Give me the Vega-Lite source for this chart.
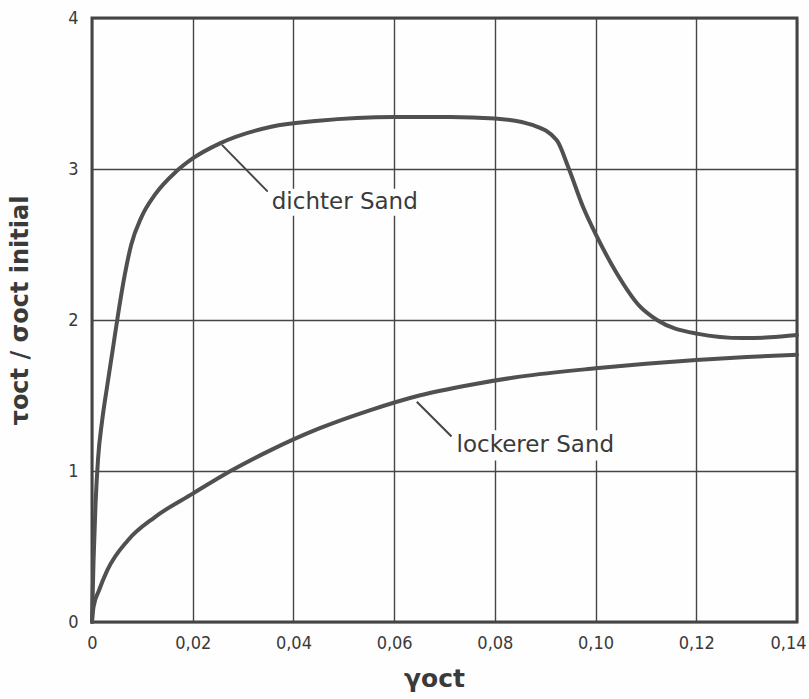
{
  "$schema": "https://vega.github.io/schema/vega-lite/v6.json",
  "width": 705,
  "height": 604,
  "autosize": "none",
  "padding": {"left": 92, "top": 18, "right": 12, "bottom": 77},
  "background": "#fefefe",
  "config": {
    "view": {"stroke": "#454545", "strokeWidth": 3},
    "font": "DejaVu Sans Condensed"
  },
  "datasets": {
    "curves": [
      {"gamma": 0, "ratio": 0, "sand": "dichter Sand"},
      {"gamma": 0.0003, "ratio": 0.4, "sand": "dichter Sand"},
      {"gamma": 0.0007, "ratio": 0.78, "sand": "dichter Sand"},
      {"gamma": 0.0012, "ratio": 1.08, "sand": "dichter Sand"},
      {"gamma": 0.002, "ratio": 1.33, "sand": "dichter Sand"},
      {"gamma": 0.003, "ratio": 1.56, "sand": "dichter Sand"},
      {"gamma": 0.0041, "ratio": 1.8, "sand": "dichter Sand"},
      {"gamma": 0.0051, "ratio": 2.02, "sand": "dichter Sand"},
      {"gamma": 0.0064, "ratio": 2.28, "sand": "dichter Sand"},
      {"gamma": 0.0078, "ratio": 2.5, "sand": "dichter Sand"},
      {"gamma": 0.0098, "ratio": 2.68, "sand": "dichter Sand"},
      {"gamma": 0.0125, "ratio": 2.83, "sand": "dichter Sand"},
      {"gamma": 0.0166, "ratio": 2.98, "sand": "dichter Sand"},
      {"gamma": 0.02, "ratio": 3.07, "sand": "dichter Sand"},
      {"gamma": 0.0254, "ratio": 3.17, "sand": "dichter Sand"},
      {"gamma": 0.0356, "ratio": 3.28, "sand": "dichter Sand"},
      {"gamma": 0.045, "ratio": 3.32, "sand": "dichter Sand"},
      {"gamma": 0.06, "ratio": 3.345, "sand": "dichter Sand"},
      {"gamma": 0.0711, "ratio": 3.345, "sand": "dichter Sand"},
      {"gamma": 0.08, "ratio": 3.335, "sand": "dichter Sand"},
      {"gamma": 0.0876, "ratio": 3.29, "sand": "dichter Sand"},
      {"gamma": 0.0923, "ratio": 3.19, "sand": "dichter Sand"},
      {"gamma": 0.0946, "ratio": 3.01, "sand": "dichter Sand"},
      {"gamma": 0.0975, "ratio": 2.75, "sand": "dichter Sand"},
      {"gamma": 0.1003, "ratio": 2.55, "sand": "dichter Sand"},
      {"gamma": 0.1042, "ratio": 2.31, "sand": "dichter Sand"},
      {"gamma": 0.1088, "ratio": 2.09, "sand": "dichter Sand"},
      {"gamma": 0.1122, "ratio": 2.0, "sand": "dichter Sand"},
      {"gamma": 0.1201, "ratio": 1.91, "sand": "dichter Sand"},
      {"gamma": 0.1293, "ratio": 1.88, "sand": "dichter Sand"},
      {"gamma": 0.1346, "ratio": 1.885, "sand": "dichter Sand"},
      {"gamma": 0.14, "ratio": 1.9, "sand": "dichter Sand"},
      {"gamma": 0, "ratio": 0, "sand": "lockerer Sand"},
      {"gamma": 0.0003, "ratio": 0.1, "sand": "lockerer Sand"},
      {"gamma": 0.0014, "ratio": 0.21, "sand": "lockerer Sand"},
      {"gamma": 0.003, "ratio": 0.34, "sand": "lockerer Sand"},
      {"gamma": 0.0071, "ratio": 0.54, "sand": "lockerer Sand"},
      {"gamma": 0.0125, "ratio": 0.695, "sand": "lockerer Sand"},
      {"gamma": 0.02, "ratio": 0.85, "sand": "lockerer Sand"},
      {"gamma": 0.0275, "ratio": 1.0, "sand": "lockerer Sand"},
      {"gamma": 0.0356, "ratio": 1.14, "sand": "lockerer Sand"},
      {"gamma": 0.045, "ratio": 1.28, "sand": "lockerer Sand"},
      {"gamma": 0.055, "ratio": 1.4, "sand": "lockerer Sand"},
      {"gamma": 0.065, "ratio": 1.5, "sand": "lockerer Sand"},
      {"gamma": 0.075, "ratio": 1.57, "sand": "lockerer Sand"},
      {"gamma": 0.085, "ratio": 1.625, "sand": "lockerer Sand"},
      {"gamma": 0.1, "ratio": 1.68, "sand": "lockerer Sand"},
      {"gamma": 0.11, "ratio": 1.71, "sand": "lockerer Sand"},
      {"gamma": 0.12, "ratio": 1.735, "sand": "lockerer Sand"},
      {"gamma": 0.13, "ratio": 1.755, "sand": "lockerer Sand"},
      {"gamma": 0.14, "ratio": 1.77, "sand": "lockerer Sand"}
    ],
    "labels": [
      {"label": "dichter Sand", "tx": 0.0357, "ty": 2.78, "bx1": 0.035, "bx2": 0.0663, "by1": 2.69, "by2": 2.87, "lx1": 0.0258, "ly1": 3.16, "lx2": 0.0349, "ly2": 2.85},
      {"label": "lockerer Sand", "tx": 0.0724, "ty": 1.17, "bx1": 0.0715, "bx2": 0.1068, "by1": 1.07, "by2": 1.27, "lx1": 0.0645, "ly1": 1.459, "lx2": 0.0714, "ly2": 1.228}
    ]
  },
  "layer": [
    {
      "data": {"name": "curves"},
      "mark": {"type": "line", "interpolate": "monotone", "strokeWidth": 4, "color": "#505050", "strokeCap": "round"},
      "encoding": {
        "x": {
          "field": "gamma", "type": "quantitative",
          "scale": {"domain": [0, 0.14], "nice": false},
          "axis": {
            "values": [0, 0.02, 0.04, 0.06, 0.08, 0.1, 0.12, 0.14],
            "labelExpr": "datum.value == 0 ? '0' : replace(format(datum.value, '.2f'), '.', ',')",
            "labelAlign": {"condition": {"test": "datum.value > 0.13", "value": "right"}, "value": "center"},
            "labelOffset": {"condition": {"test": "datum.value > 0.13", "value": 9}, "value": 0},
            "title": "γoct",
            "titleFontSize": 25,
            "titleFontWeight": 600,
            "titleFont": "DejaVu Sans",
            "titleColor": "#3a3a3a",
            "titleX": 342,
            "titleY": 56,
            "titleBaseline": "middle",
            "labelFontSize": 18,
            "labelColor": "#3a3a3a",
            "labelPadding": 12,
            "labelFlush": false,
            "labelOverlap": false,
            "ticks": false,
            "domain": false,
            "grid": true,
            "gridColor": "#454545",
            "gridWidth": 1.4,
            "gridOpacity": 1
          }
        },
        "y": {
          "field": "ratio", "type": "quantitative",
          "scale": {"domain": [0, 4], "nice": false},
          "axis": {
            "values": [0, 1, 2, 3, 4],
            "format": "d",
            "title": "τoct / σoct initial",
            "titleFontSize": 24,
            "titleFontWeight": "bold",
            "titleFont": "DejaVu Sans",
            "titleColor": "#3a3a3a",
            "titleX": -72,
            "titleY": 292,
            "titleBaseline": "middle",
            "labelFontSize": 18,
            "labelColor": "#3a3a3a",
            "labelPadding": 14,
            "labelFlush": false,
            "labelOverlap": false,
            "ticks": false,
            "domain": false,
            "grid": true,
            "gridColor": "#454545",
            "gridWidth": 1.4,
            "gridOpacity": 1
          }
        },
        "detail": {"field": "sand"}
      }
    },
    {
      "data": {"name": "labels"},
      "mark": {"type": "rule", "strokeWidth": 2, "color": "#454545"},
      "encoding": {
        "x": {"field": "lx1", "type": "quantitative"},
        "y": {"field": "ly1", "type": "quantitative"},
        "x2": {"field": "lx2"},
        "y2": {"field": "ly2"}
      }
    },
    {
      "data": {"name": "labels"},
      "mark": {"type": "rect", "color": "#fefefe"},
      "encoding": {
        "x": {"field": "bx1", "type": "quantitative"},
        "x2": {"field": "bx2"},
        "y": {"field": "by1", "type": "quantitative"},
        "y2": {"field": "by2"}
      }
    },
    {
      "data": {"name": "labels"},
      "mark": {"type": "text", "align": "left", "baseline": "middle", "fontSize": 23, "color": "#3a3a3a", "font": "DejaVu Sans"},
      "encoding": {
        "x": {"field": "tx", "type": "quantitative"},
        "y": {"field": "ty", "type": "quantitative"},
        "text": {"field": "label"}
      }
    }
  ]
}
